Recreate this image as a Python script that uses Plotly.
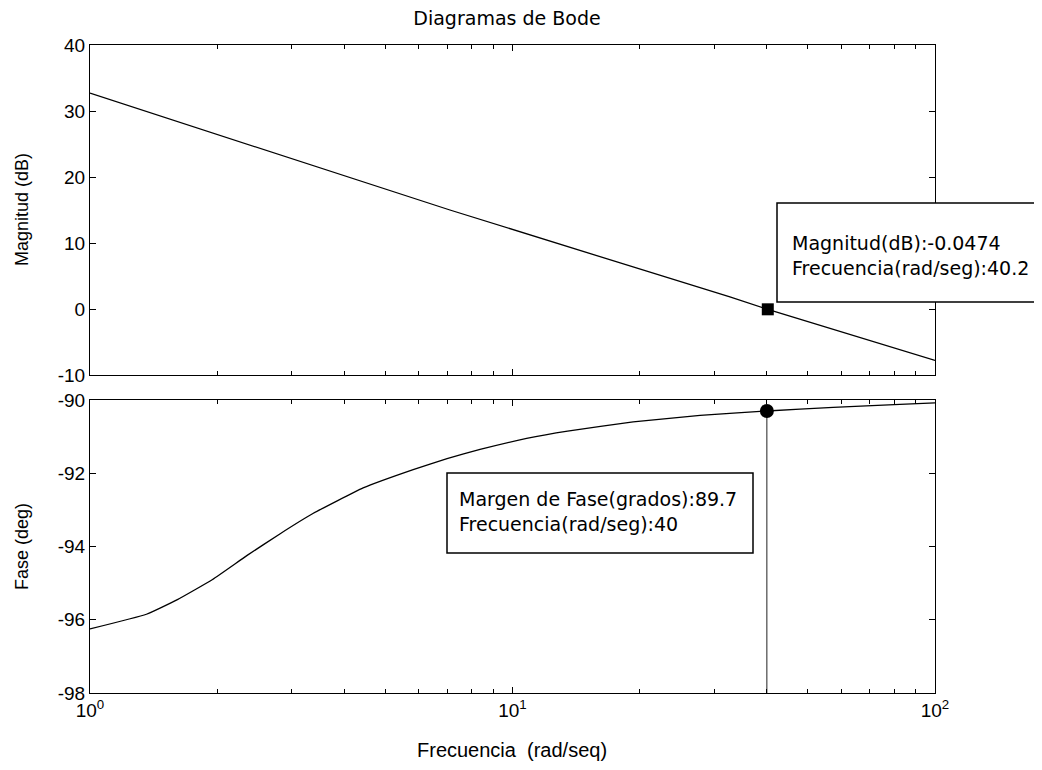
import plotly.graph_objects as go
from plotly.subplots import make_subplots

# ---- data ----
mag_freq = [1, 2.39, 7.11, 32.7, 40.2, 100]
mag_db = [32.7, 24.85, 15.0, 1.82, -0.0474, -7.8]

phase_freq = [1, 1.36, 1.61, 1.95, 2.35, 2.82, 3.37, 4.43, 5.82, 7.0, 8.38,
              10.8, 13.5, 19.3, 27.8, 40, 57.4, 82.6, 100]
phase_deg = [-96.25, -95.85, -95.45, -94.9, -94.25, -93.65, -93.1, -92.4, -91.9,
             -91.6, -91.35, -91.05, -90.85, -90.6, -90.42, -90.3, -90.2, -90.12, -90.08]

mag_marker_freq = [40.2]
mag_marker_db = [-0.0474]
pm_freq = [40]
pm_phase = [-90.3]
pm_line_phase = [-90.3, -98]

mag_ticks = [-10, 0, 10, 20, 30, 40]
mag_tick_text = ["-10", "0", "10", "20", "30", "40"]
phase_ticks = [-98, -96, -94, -92, -90]
phase_tick_text = ["-98", "-96", "-94", "-92", "-90"]
x_major = [1, 10, 100]
x_major_text = ["10<sup>0</sup>", "10<sup>1</sup>", "10<sup>2</sup>"]
x_minor = [2, 3, 4, 5, 6, 7, 8, 9, 20, 30, 40, 50, 60, 70, 80, 90]

title_text = "Diagramas de Bode"
xlabel = "Frecuencia  (rad/seq)"
ylabel_top = "Magnitud (dB)"
ylabel_bot = "Fase (deg)"
ann_top = "Magnitud(dB):-0.0474<br>Frecuencia(rad/seg):40.2"
ann_bot = "Margen de Fase(grados):89.7<br>Frecuencia(rad/seg):40"

# ---- figure geometry (page is drawn with an 8px body margin) ----
OFF = 8
W, H = 1042 - 2 * OFF, 770 - 2 * OFF
L = 90 - OFF
R = W - (935 - OFF)
T = 45 - OFF
B = H - (693 - OFF)
plot_h = H - T - B
plot_w = W - L - R


def py(px):  # screenshot pixel y -> paper y
    return (H - B - (px - OFF)) / plot_h


def pxx(px):  # screenshot pixel x -> paper x
    return ((px - OFF) - L) / plot_w


fig = make_subplots(rows=2, cols=1, shared_xaxes=False, vertical_spacing=0.0)

fig.add_trace(go.Scatter(x=mag_freq, y=mag_db, mode="lines",
                         line=dict(color="black", width=1.3), showlegend=False), row=1, col=1)
fig.add_trace(go.Scatter(x=mag_marker_freq, y=mag_marker_db, mode="markers",
                         marker=dict(symbol="square", size=12, color="black"),
                         showlegend=False), row=1, col=1)

fig.add_trace(go.Scatter(x=phase_freq, y=phase_deg, mode="lines",
                         line=dict(color="black", width=1.3, shape="spline", smoothing=0.4),
                         showlegend=False), row=2, col=1)
fig.add_trace(go.Scatter(x=pm_freq * 2, y=pm_line_phase, mode="lines",
                         line=dict(color="#222222", width=1), showlegend=False), row=2, col=1)
fig.add_trace(go.Scatter(x=pm_freq, y=pm_phase, mode="markers",
                         marker=dict(symbol="circle", size=14, color="black"),
                         showlegend=False), row=2, col=1)

SANS = "Liberation Sans, Arial, sans-serif"
tick_font = dict(family=SANS, size=19, color="black")

common_x = dict(type="log", range=[0, 2], showgrid=False, zeroline=False,
                showline=True, linecolor="black", linewidth=1, mirror="ticks",
                ticks="inside", ticklen=6, tickcolor="black",
                tickmode="array", tickvals=x_major, ticktext=x_major_text,
                minor=dict(tickmode="array", tickvals=x_minor, ticks="inside",
                           ticklen=4, tickcolor="black", showgrid=False),
                tickfont=tick_font, automargin=False)

fig.update_xaxes(**common_x)
fig.update_xaxes(showticklabels=False, row=1, col=1)

common_y = dict(showgrid=False, zeroline=False, showline=True, linecolor="black",
                linewidth=1, mirror="ticks", ticks="inside", ticklen=6,
                tickcolor="black", tickfont=tick_font, tickmode="array",
                automargin=False)
fig.update_yaxes(**common_y)
fig.update_yaxes(range=[-10, 40], tickvals=mag_ticks, ticktext=mag_tick_text, row=1, col=1)
fig.update_yaxes(range=[-98, -90], tickvals=phase_ticks, ticktext=phase_tick_text, row=2, col=1)

fig.update_layout(
    xaxis=dict(domain=[0, 1]),
    yaxis=dict(domain=[py(375), 1]),
    xaxis2=dict(domain=[0, 1]),
    yaxis2=dict(domain=[0, py(400)]),
)

# data-tip boxes drawn as paper-referenced shapes
box_line = dict(color="black", width=1.5)
tx0, tx1, ty0, ty1 = pxx(777), pxx(1080), py(302), py(203)
shapes = [
    # top box: white fill, open on the right (it runs off the page)
    dict(type="rect", xref="paper", yref="paper", layer="above",
         x0=tx0, x1=tx1, y0=ty0, y1=ty1, fillcolor="white", line=dict(width=0)),
    dict(type="path", xref="paper", yref="paper", layer="above",
         path=f"M {tx1},{ty1} L {tx0},{ty1} L {tx0},{ty0} L {tx1},{ty0}",
         line=box_line),
    dict(type="rect", xref="paper", yref="paper", layer="above",
         x0=pxx(447), x1=pxx(753), y0=py(553), y1=py(473),
         fillcolor="white", line=box_line),
]

ann_font = dict(family="DejaVu Sans, sans-serif", size=19, color="black")
annotations = [
    dict(text=ann_top, xref="paper", yref="paper", x=pxx(790), y=py(255),
         xanchor="left", yanchor="middle", align="left", showarrow=False,
         font=ann_font),
    dict(text=ann_bot, xref="paper", yref="paper", x=pxx(457), y=py(511),
         xanchor="left", yanchor="middle", align="left", showarrow=False,
         font=ann_font),
    dict(text=ylabel_top, xref="paper", yref="paper", x=pxx(22), y=py(210),
         xanchor="center", yanchor="middle", textangle=-90, showarrow=False,
         font=dict(family=SANS, size=18, color="black")),
    dict(text=ylabel_bot, xref="paper", yref="paper", x=pxx(22), y=py(547),
         xanchor="center", yanchor="middle", textangle=-90, showarrow=False,
         font=dict(family=SANS, size=18, color="black")),
    dict(text=xlabel, xref="paper", yref="paper", x=pxx(512), y=py(750),
         xanchor="center", yanchor="middle", showarrow=False,
         font=dict(family=SANS, size=20, color="black")),
]

fig.update_layout(
    width=W, height=H,
    margin=dict(l=L, r=R, t=T, b=B),
    paper_bgcolor="white", plot_bgcolor="white",
    title=dict(text=title_text, x=(507 - OFF) / W, xanchor="center",
               y=1 - (18 - OFF) / H, yanchor="middle",
               font=dict(family="DejaVu Sans, sans-serif", size=19, color="black")),
    shapes=shapes,
    annotations=annotations,
    showlegend=False,
)

fig.write_html("out.html")
